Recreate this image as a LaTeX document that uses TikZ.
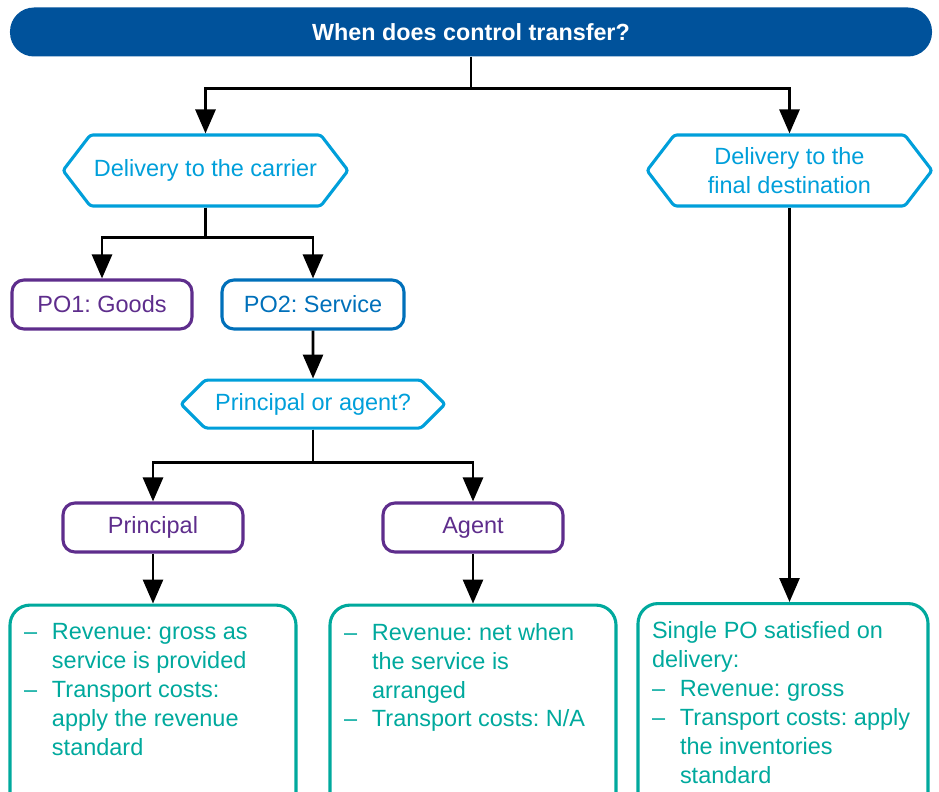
\documentclass[tikz,border=0pt]{standalone}
\usepackage{fontspec}
\setmainfont{Liberation Sans}
\frenchspacing
\usetikzlibrary{shapes.symbols, shapes.misc, arrows.meta, positioning}
\definecolor{titleblue}{HTML}{00529B}
\definecolor{hexcyan}{HTML}{009FDA}
\definecolor{povio}{HTML}{5E2D8C}
\definecolor{poblue}{HTML}{0070BA}
\definecolor{outteal}{HTML}{00A99D}
\newcommand{\dashitem}[1]{\par\hangindent=0.7cm\hangafter=1\noindent\makebox[0.7cm][l]{--}#1\par}
\newcommand{\outtext}[2]{\parbox[t][4.6cm][t]{#1}{\rightskip=0pt plus 1fil\parfillskip=0pt plus 1fil #2}}

\begin{document}
\begin{tikzpicture}[
    every node/.style={font=\fontsize{16.7}{20.6}\selectfont},
    header/.style={rectangle, fill=titleblue, text=white, rounded corners=0.6cm,
                   minimum width=23.05cm, minimum height=1.225cm, font=\fontsize{16.6}{20.6}\selectfont\bfseries},
    question/.style={signal, signal to=west and east, draw=hexcyan, text=hexcyan, line width=2.2pt,
                     rounded corners=2pt, align=center, inner sep=0pt},
    pobox/.style={rectangle, draw, line width=2.2pt, rounded corners=0.3cm,
                  minimum width=4.5cm, minimum height=1.225cm},
    outcome/.style={rectangle, draw=outteal, text=outteal, line width=2.2pt, rounded corners=0.5cm,
                    anchor=north, inner xsep=0.35cm, inner ysep=0.45cm, align=left},
    arr/.style={-{Triangle[length=0.6cm, width=0.5cm]}, line width=2pt}
]
    \useasboundingbox (0,0) rectangle (23.475,-19.775);
    \clip (0,0) rectangle (23.475,-19.775);

    \node[header] (title) at (11.775,-0.8) {When does control transfer?};

    \node[question, signal pointer angle=105, minimum width=7.125cm, minimum height=1.775cm]
        (carrier) at (5.1375,-4.2625) {Delivery to the carrier};
    \node[question, signal pointer angle=105, minimum width=7.125cm, minimum height=1.775cm]
        (destination) at (19.7375,-4.2625) {Delivery to the\\final destination};

    \node[pobox, draw=povio, text=povio] (goods) at (2.55,-7.6125) {PO1: Goods};
    \node[pobox, draw=poblue, text=poblue, minimum width=4.55cm] (service) at (7.825,-7.6125) {PO2: Service};

    \node[question, signal pointer angle=90, minimum width=6.6cm, minimum height=1.2cm,
          below=1.2cm of service] (pora) {Principal or agent?};

    \node[pobox, draw=povio, text=povio] (principal) at (3.825,-13.1875) {Principal};
    \node[pobox, draw=povio, text=povio] (agent) at (11.825,-13.1875) {Agent};

    \node[outcome, minimum width=7.15cm, below=1.25cm of principal] (grossout)
        {\outtext{6.45cm}{\dashitem{Revenue: gross as\\service is provided}\dashitem{Transport costs:\\apply the revenue\\standard}}};
    \node[outcome, minimum width=7.15cm, below=1.25cm of agent] (netout)
        {\outtext{6.45cm}{\dashitem{Revenue: net when\\the service is\\arranged}\dashitem{Transport costs: N/A}}};
    \node[outcome, minimum width=7.25cm] (singleout) at (19.575,-15.05)
        {\outtext{6.55cm}{\noindent Single PO satisfied on\\delivery:\dashitem{Revenue: gross}\dashitem{Transport costs: apply\\the inventories\\standard}}};

    % branches
    \draw[arr] (title.south) -- ++(0,-0.8) -| (carrier.north);
    \draw[arr] (title.south) -- ++(0,-0.8) -| (destination.north);
    \draw[arr] (carrier.south) -- ++(0,-0.75) -| (goods.north);
    \draw[arr] (carrier.south) -- ++(0,-0.75) -| (service.north);
    \draw[arr] (service) -- (pora);
    \draw[arr] (pora.south) -- ++(0,-0.825) -| (principal.north);
    \draw[arr] (pora.south) -- ++(0,-0.825) -| (agent.north);
    \draw[arr] (principal) -- (grossout);
    \draw[arr] (agent) -- (netout);
    \draw[arr] (destination.south) -- (destination.south |- singleout.north);
\end{tikzpicture}
\end{document}
